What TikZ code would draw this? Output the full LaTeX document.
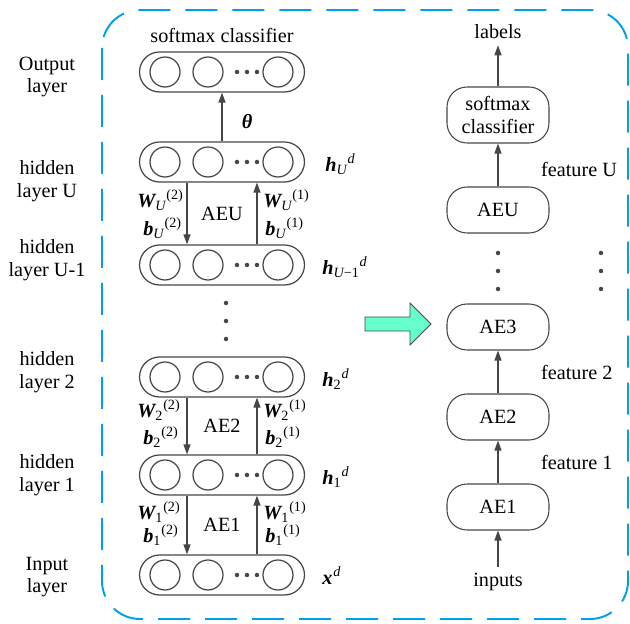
\documentclass[tikz,border=0pt]{standalone}
\usepackage{amsmath}
\usepackage{fontspec}
\setmainfont{Liberation Serif}
\usetikzlibrary{arrows.meta, calc, shapes.misc, positioning}

\definecolor{frameblue}{RGB}{0,160,233}
\definecolor{linegray}{RGB}{70,70,70}
\definecolor{arrowgreen}{RGB}{102,255,204}

\newcommand{\wlbl}[3]{{\bfseries\itshape #1}$_{\text{#2}}{}^{\text{#3}}$}

\tikzset{
  pill/.style={draw=linegray, line width=0.7pt, rounded rectangle, minimum width=3.3cm, minimum height=0.8cm, inner sep=0pt},
  unit/.style={draw=linegray, line width=0.7pt, circle, minimum size=0.6cm, inner sep=0pt},
  aebox/.style={draw=linegray, line width=0.6pt, rounded corners=0.4cm, minimum width=2.04cm, minimum height=0.92cm, align=center, inner sep=1pt},
  conn/.style={->, draw=linegray, line width=0.7pt},
  lyrtxt/.style={align=center},
  wtxt/.style={anchor=west, inner sep=0pt}
}

\begin{document}
\begin{tikzpicture}[x=0.02cm, y=-0.02cm, font=\fontsize{11.5}{13}\selectfont,
  >={Triangle[length=0.2cm, width=0.14cm]}]
  \useasboundingbox (0,0) rectangle (630,624);

  % dashed frame
  \draw[frameblue, line width=1.1pt, dash pattern=on 0.64cm off 0.3cm, rounded corners=0.76cm]
    (102,10) rectangle (628,619);

  % left: layers
  \node (smtxt) at (222,35) {softmax classifier};
  \foreach \n/\y in {out/72, hU/162, hUm/265, hII/377, hI/475, inp/575}{
    \node[pill] (\n) at (222,\y) {};
    \node[unit] at ([xshift=-1.14cm]\n.center) {};
    \node[unit] at ([xshift=-0.28cm]\n.center) {};
    \node[unit] at ([xshift=1.12cm]\n.center) {};
    \foreach \d in {0.3,0.5,0.7}
      \fill[linegray] ([xshift=\d cm]\n.center) circle (0.045cm);
  }
  \foreach \yy in {303,321,339}
    \fill[linegray] (226,\yy) circle (0.045cm);

  \node[lyrtxt] (tout) at (47,77) {Output\\layer};
  \node[lyrtxt] (thU) at (47,181) {hidden\\layer U};
  \node[lyrtxt] (thUm) at (47,260) {hidden\\layer U-1};
  \node[lyrtxt] (thII) at (47,372) {hidden\\layer 2};
  \node[lyrtxt] (thI) at (47,475) {hidden\\layer 1};
  \node[lyrtxt] (tinp) at (47,577) {Input\\layer};

  \node[wtxt] (vhU) at (325,164) {\wlbl{h}{\itshape U}{\itshape d}};
  \node[wtxt] (vhUm) at (322,267) {\wlbl{h}{\itshape U\upshape −1}{\itshape d}};
  \node[wtxt] (vhII) at (322,379) {\wlbl{h}{2}{\itshape d}};
  \node[wtxt] (vhI) at (322,477) {\wlbl{h}{1}{\itshape d}};
  \node[wtxt] (vx) at (322,577) {\wlbl{x}{}{\itshape d}};

  \draw[conn] (hU.north) -- (out.south);
  \node (theta) at (247,122) {\bfseries\itshape θ};

  % AE blocks
  \foreach \t/\b/\k/\s/\yw/\yb in {hU/hUm/U/{\itshape U}/200/228, hII/hI/2/2/410/437, hI/inp/1/1/512/535}{
    \draw[conn] ([xshift=-0.7cm]\t.south) -- ([xshift=-0.7cm]\b.north);
    \draw[conn] ([xshift=0.7cm]\b.north) -- ([xshift=0.7cm]\t.south);
    \node (ae\k) at ($(\t.south)!0.5!(\b.north)$) {AE\k};
    \node[wtxt] (wl\k) at (137,\yw) {\wlbl{W}{\s}{(2)}};
    \node[wtxt] (bl\k) at (143,\yb) {\wlbl{b}{\s}{(2)}};
    \node[wtxt] (wr\k) at (263,\yw) {\wlbl{W}{\s}{(1)}};
    \node[wtxt] (br\k) at (265,\yb) {\wlbl{b}{\s}{(1)}};
  }

  % arrow between the two views
  \draw[linegray, fill=arrowgreen, line width=0.5pt]
    (365,317) -- (410,317) -- (410,303) -- (431,324) -- (410,345) -- (410,331) -- (365,331) -- cycle;

  % right: stacked autoencoders
  \node (lbls) at (498,32) {labels};
  \node[aebox, minimum height=1.12cm] (smc) at (498,115) {softmax\\classifier};
  \node[aebox] (aeRU) at (498,210) {AEU};
  \node[aebox] (aeRIII) at (498,327) {AE3};
  \node[aebox] (aeRII) at (498,417) {AE2};
  \node[aebox] (aeRI) at (498,507) {AE1};
  \node (inps) at (498,582) {inputs};

  \draw[conn] (inps) -- (aeRI);
  \draw[conn] (aeRI) -- (aeRII);
  \draw[conn] (aeRII) -- (aeRIII);
  \draw[conn] (aeRU) -- (smc);
  \draw[conn] (smc) -- (lbls);
  \foreach \yy in {253,271,289}{
    \fill[linegray] (498,\yy) circle (0.045cm);
    \fill[linegray] (601,\yy) circle (0.045cm);
  }

  \node[anchor=west] (fU) at (535,169) {feature U};
  \node[anchor=west] (fII) at (535,372) {feature 2};
  \node[anchor=west] (fI) at (535,462) {feature 1};
\end{tikzpicture}
\end{document}
